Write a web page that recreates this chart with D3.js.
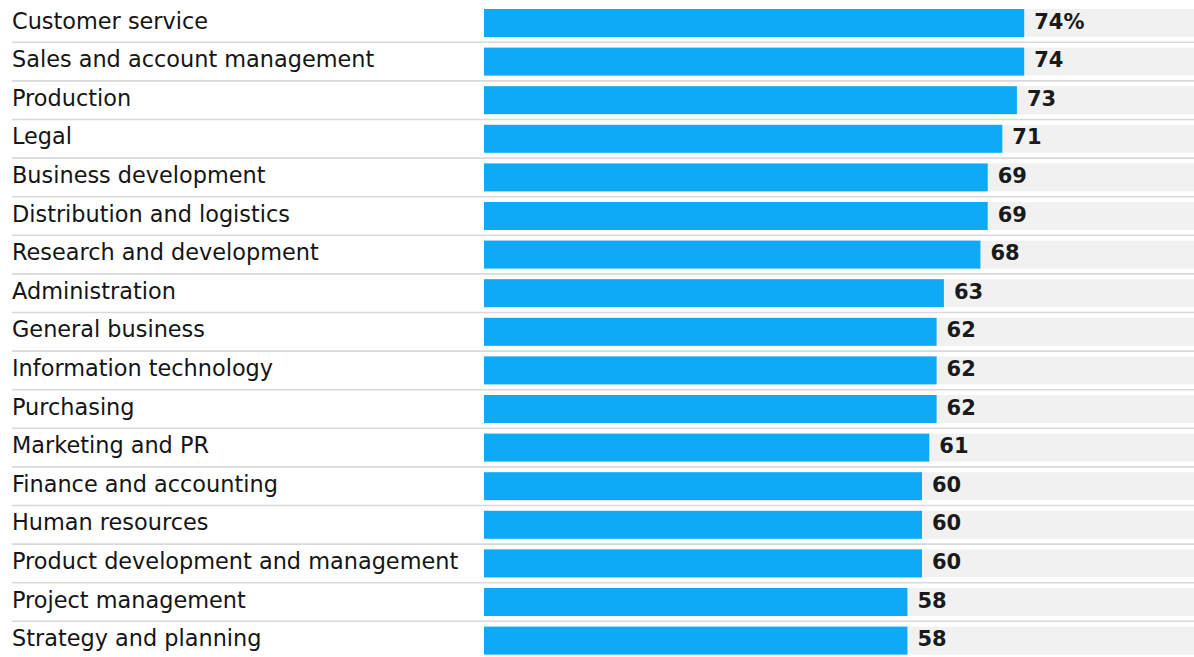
<!DOCTYPE html>
<html>
<head>
<meta charset="utf-8">
<script src="https://cdn.jsdelivr.net/npm/d3@7"></script>
<style>
  html, body { margin: 0; padding: 0; background: #ffffff; }
  svg { display: block; }
</style>
</head>
<body>
<svg id="chart" width="1194" height="657"></svg>
<script>
const categories = [
  "Customer service",
  "Sales and account management",
  "Production",
  "Legal",
  "Business development",
  "Distribution and logistics",
  "Research and development",
  "Administration",
  "General business",
  "Information technology",
  "Purchasing",
  "Marketing and PR",
  "Finance and accounting",
  "Human resources",
  "Product development and management",
  "Project management",
  "Strategy and planning"
];
const values = [74, 74, 73, 71, 69, 69, 68, 63, 62, 62, 62, 61, 60, 60, 60, 58, 58];
const valueLabels = ["74%", "74", "73", "71", "69", "69", "68", "63", "62", "62", "62", "61", "60", "60", "60", "58", "58"];

const W = 1194, H = 657;
const svg = d3.select("#chart");

const x = d3.scaleLinear().domain([0, 100]).range([484, 1214]);
const y = d3.scaleBand()
  .domain(categories)
  .range([3.7, 3.7 + 17 * 38.6])
  .paddingInner(0.275)
  .paddingOuter(0.1375);

const data = categories.map((c, i) => ({ c, v: values[i], label: valueLabels[i], i }));

// separators
svg.append("g").selectAll("line")
  .data(data.slice(0, data.length - 1))
  .join("line")
  .attr("x1", 12)
  .attr("x2", W)
  .attr("y1", d => y(d.c) + y.bandwidth() + (y.step() - y.bandwidth()) / 2)
  .attr("y2", d => y(d.c) + y.bandwidth() + (y.step() - y.bandwidth()) / 2)
  .attr("stroke", "#d9d9d9")
  .attr("stroke-width", 1.6);

// tracks
svg.append("g").selectAll("rect")
  .data(data)
  .join("rect")
  .attr("x", x(0))
  .attr("y", d => y(d.c))
  .attr("width", W - x(0))
  .attr("height", y.bandwidth())
  .attr("fill", "#f1f1f1");

// bars
svg.append("g").selectAll("rect")
  .data(data)
  .join("rect")
  .attr("x", x(0))
  .attr("y", d => y(d.c))
  .attr("width", d => x(d.v) - x(0))
  .attr("height", y.bandwidth())
  .attr("fill", "#0eaaf6");

// category labels
svg.append("g").selectAll("text")
  .data(data)
  .join("text")
  .attr("x", 12)
  .attr("y", d => y(d.c) + 19.5)
  .attr("font-family", "'DejaVu Sans', sans-serif")
  .attr("font-size", 22.4)
  .attr("fill", "#151515")
  .text(d => d.c);

// value labels
svg.append("g").selectAll("text")
  .data(data)
  .join("text")
  .attr("x", d => x(d.v) + 10)
  .attr("y", d => y(d.c) + 19.5)
  .attr("font-family", "'DejaVu Sans', sans-serif")
  .attr("font-weight", "bold")
  .attr("font-size", 21)
  .attr("fill", "#1a1a1a")
  .text(d => d.label);
</script>
</body>
</html>
